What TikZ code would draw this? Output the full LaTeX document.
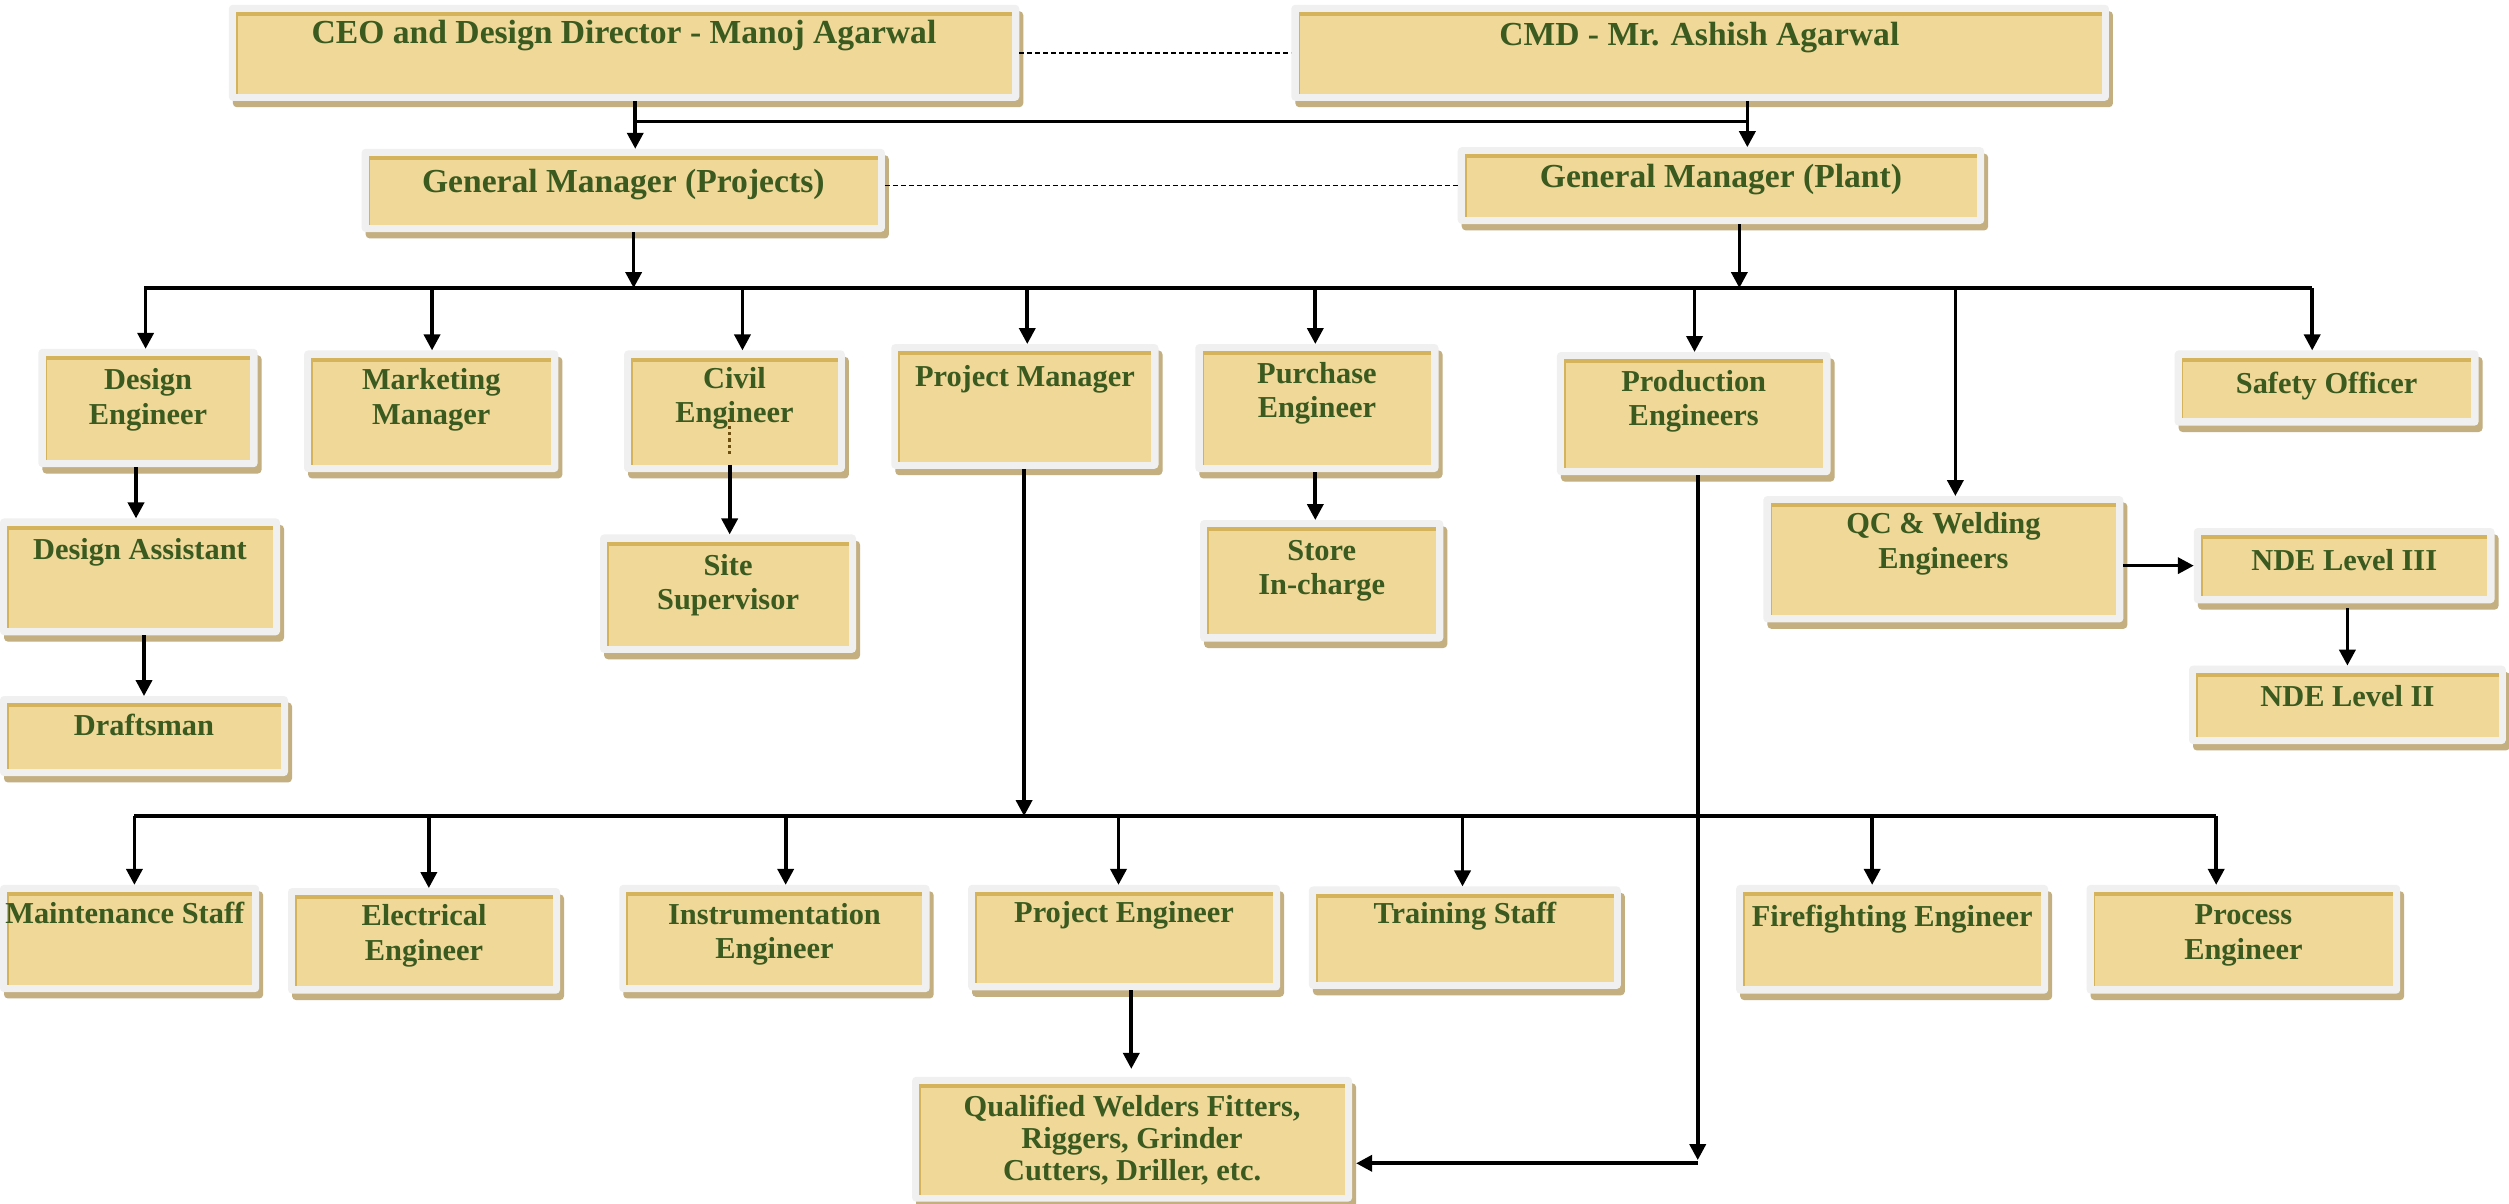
\documentclass[tikz,border=0pt]{standalone}
\usepackage{fontspec}
\setmainfont{Liberation Serif}
\usetikzlibrary{arrows.meta,shadows}
\definecolor{framec}{HTML}{F0F0F0}
\definecolor{shadowc}{HTML}{C3AF80}
\definecolor{innerc}{HTML}{EFD898}
\definecolor{stripec}{HTML}{D4B35C}
\definecolor{textc}{HTML}{3A5A20}
\definecolor{dotc}{HTML}{6B4E10}
\begin{document}
\begin{tikzpicture}[x=1pt,y=-1pt,
  box/.style={rectangle, rounded corners=2.5pt, fill=framec, inner sep=0pt, outer sep=0pt,
    general shadow={fill=shadowc, shadow xshift=2.5pt, shadow yshift=-4pt},
    path picture={
      \fill[innerc, sharp corners] ([xshift=4.5pt,yshift=4.5pt]path picture bounding box.south west) rectangle ([xshift=-4.5pt,yshift=-4.5pt]path picture bounding box.north east);
      \fill[stripec, sharp corners] ([xshift=4.5pt,yshift=-4.5pt]path picture bounding box.north west) rectangle ([xshift=-4.5pt,yshift=-7pt]path picture bounding box.north east);
      \fill[stripec, sharp corners] ([xshift=4.5pt,yshift=4.5pt]path picture bounding box.south west) rectangle ([xshift=5.5pt,yshift=-4.5pt]path picture bounding box.north west);
    }},
  txt/.style={font=\bfseries\fontsize{19}{21.5}\selectfont, text=textc, align=center, inner sep=0pt, anchor=north},
  bigtxt/.style={txt, font=\bfseries\fontsize{21}{24}\selectfont},
  link/.style={line width=2.3pt, draw=black},
  arr/.style={link, -{Triangle[length=10pt,width=10pt]}},
  dashlink/.style={line width=0.9pt, draw=black, dash pattern=on 3pt off 2pt}
]
\useasboundingbox[fill=white] (0,0) rectangle (1568,752);

% ---- boxes ----
\node[box, minimum width=494pt, minimum height=60pt] (ceo) at (390,33) {};
\node[box, minimum width=511pt, minimum height=60pt] (cmd) at (1062.5,33) {};
\node[box, minimum width=327pt, minimum height=52pt] (gmp) at (389.5,119) {};
\node[box, minimum width=329pt, minimum height=48pt] (gmpl) at (1075.5,116) {};

\node[box, minimum width=137pt, minimum height=74pt] (deng) at (92.5,255) {};
\node[box, minimum width=159pt, minimum height=76pt] (mkt) at (269.5,257) {};
\node[box, minimum width=138pt, minimum height=76pt] (civil) at (459,257) {};
\node[box, minimum width=167pt, minimum height=78pt] (pm) at (640.5,254) {};
\node[box, minimum width=152pt, minimum height=80pt] (purch) at (823,255) {};
\node[box, minimum width=171pt, minimum height=77pt] (prod) at (1058.5,258.5) {};
\node[box, minimum width=190pt, minimum height=47pt] (safety) at (1454,242.5) {};

\node[box, minimum width=175pt, minimum height=73pt] (dasst) at (87.5,360.5) {};
\node[box, minimum width=160pt, minimum height=74pt] (site) at (455,371) {};
\node[box, minimum width=152pt, minimum height=76pt] (store) at (826,363) {};
\node[box, minimum width=225pt, minimum height=79pt] (qc) at (1214.5,349.5) {};
\node[box, minimum width=188pt, minimum height=47pt] (ndethree) at (1465,353.5) {};
\node[box, minimum width=198pt, minimum height=49pt] (ndetwo) at (1467,440.5) {};
\node[box, minimum width=180pt, minimum height=50pt] (draft) at (90,460) {};

\node[box, minimum width=162pt, minimum height=67pt] (maint) at (81,586.5) {};
\node[box, minimum width=170pt, minimum height=66pt] (elec) at (265,588) {};
\node[box, minimum width=194pt, minimum height=67pt] (instr) at (484,586.5) {};
\node[box, minimum width=195pt, minimum height=66pt] (projeng) at (702.5,586) {};
\node[box, minimum width=195pt, minimum height=64pt] (train) at (915.5,586) {};
\node[box, minimum width=195pt, minimum height=68pt] (fire) at (1182.5,587) {};
\node[box, minimum width=196pt, minimum height=68pt] (proc) at (1402,587) {};
\node[box, minimum width=275pt, minimum height=78pt] (qual) at (707.5,712) {};

% ---- texts ----
\node[bigtxt] (ceo-t) at (390,12.5) {CEO and Design Director - Manoj Agarwal};
\node[bigtxt] (cmd-t) at (1062,13.5) {CMD - Mr. Ashish Agarwal};
\node[bigtxt] (gmp-t) at (389.5,105.5) {General Manager (Projects)};
\node[bigtxt] (gmpl-t) at (1075.5,102.5) {General Manager (Plant)};

\node[txt] (deng-t) at (92.5,230.3) {Design\\Engineer};
\node[txt] (mkt-t) at (269.5,230.3) {Marketing\\Manager};
\node[txt] (civil-t) at (459,229.3) {Civil\\Engineer};
\node[txt] (pm-t) at (640.5,228.3) {Project Manager};
\node[txt] (purch-t) at (823,226.3) {Purchase\\Engineer};
\node[txt] (prod-t) at (1058.5,231.3) {Production\\Engineers};
\node[txt] (safety-t) at (1454,232.3) {Safety Officer};

\node[txt] (dasst-t) at (87.5,336.3) {Design Assistant};
\node[txt] (site-t) at (455,346.3) {Site\\Supervisor};
\node[txt] (store-t) at (826,337.3) {Store\\In-charge};
\node[txt] (qc-t) at (1214.5,320.3) {QC \& Welding\\Engineers};
\node[txt] (ndethree-t) at (1465,343.3) {NDE Level III};
\node[txt] (ndetwo-t) at (1467,428.3) {NDE Level II};
\node[txt] (draft-t) at (90,446.3) {Draftsman};

\node[txt] (maint-t) at (78,563.3) {Maintenance Staff};
\node[txt] (elec-t) at (265,565.3) {Electrical\\Engineer};
\node[txt] (instr-t) at (484,564.3) {Instrumentation\\Engineer};
\node[txt] (projeng-t) at (702.5,563.3) {Project Engineer};
\node[txt] (train-t) at (915.5,563.3) {Training Staff};
\node[txt] (fire-t) at (1182.5,565.3) {Firefighting Engineer};
\node[txt] (proc-t) at (1402,565.3) {Process\\Engineer};
\node[txt, font=\bfseries\fontsize{19}{20}\selectfont] (qual-t) at (707.5,684.3) {Qualified Welders Fitters,\\Riggers, Grinder\\Cutters, Driller, etc.};

% ---- junction coordinates ----
\coordinate (ja) at (397,76);
\coordinate (jb) at (1092,76);
\coordinate (ba) at (396,180);
\coordinate (bb) at (1087,180);
\coordinate (bl) at (90,180);
\coordinate (br) at (1445,180);
\coordinate (d1) at (91,180);
\coordinate (d2) at (270,180);
\coordinate (d3) at (464,180);
\coordinate (d4) at (642,180);
\coordinate (d5) at (822,180);
\coordinate (d6) at (1059,180);
\coordinate (d7) at (1222,180);
\coordinate (d8) at (1445,180);
\coordinate (xa) at (85,0);
\coordinate (xb) at (90,0);
\coordinate (xc) at (456,0);
\coordinate (xd) at (822,0);
\coordinate (xe) at (1467,0);
\coordinate (lb) at (640,510);
\coordinate (ll) at (84,510);
\coordinate (lr) at (1385,510);
\coordinate (e1) at (84,510);
\coordinate (e2) at (268,510);
\coordinate (e3) at (491,510);
\coordinate (e4) at (699,510);
\coordinate (e5) at (914,510);
\coordinate (e6) at (1170,510);
\coordinate (e7) at (1385,510);
\coordinate (xf) at (707,0);
\coordinate (pc) at (1061,727);
\coordinate (civdot) at (456,262);

% ---- connectors ----
\draw[dashlink] (ceo.east) -- (ceo.east -| cmd.west);
\draw[dashlink] (gmpl.west -| gmp.east) -- (gmpl.west);

\draw[arr] (ceo.south -| ja) -- (gmp.north -| ja);
\draw[link] (ja) -- (jb);
\draw[arr] (cmd.south -| jb) -- (gmpl.north -| jb);

\draw[arr] (gmp.south -| ba) -- (ba);
\draw[arr] (gmpl.south -| bb) -- (bb);
\draw[link] (bl) -- (br);

\draw[arr] (d1) -- (deng.north -| d1);
\draw[arr] (d2) -- (mkt.north -| d2);
\draw[arr] (d3) -- (civil.north -| d3);
\draw[arr] (d4) -- (pm.north -| d4);
\draw[arr] (d5) -- (purch.north -| d5);
\draw[arr] (d6) -- (prod.north -| d6);
\draw[arr] (d7) -- (qc.north -| d7);
\draw[arr] (d8) -- (safety.north -| d8);

\draw[arr] (deng.south -| xa) -- (dasst.north -| xa);
\draw[arr] (dasst.south -| xb) -- (draft.north -| xb);
\draw[line width=1.6pt, draw=dotc, dash pattern=on 2pt off 2pt] (civdot) -- ++(0,23);
\draw[arr] ([yshift=4.5pt]civil.south -| xc) -- (site.north -| xc);
\draw[arr] (purch.south -| xd) -- (store.north -| xd);
\draw[arr] (ndethree.west -| qc.east) -- (ndethree.west);
\draw[arr] ([yshift=-3pt]ndethree.south -| xe) -- (ndetwo.north -| xe);

\draw[arr] (pm.south -| lb) -- (lb);
\draw[link] (ll) -- (lr);
\draw[arr] (e1) -- (maint.north -| e1);
\draw[arr] (e2) -- (elec.north -| e2);
\draw[arr] (e3) -- (instr.north -| e3);
\draw[arr] (e4) -- (projeng.north -| e4);
\draw[arr] (e5) -- (train.north -| e5);
\draw[arr] (e6) -- (fire.north -| e6);
\draw[arr] (e7) -- (proc.north -| e7);

\draw[arr] (projeng.south -| xf) -- ([yshift=5pt]qual.north -| xf);
\draw[arr] (prod.south -| pc) -- ([yshift=2pt]pc);
\draw[arr] (pc) -- ([xshift=2.5pt]qual.east |- pc);
\end{tikzpicture}
\end{document}
